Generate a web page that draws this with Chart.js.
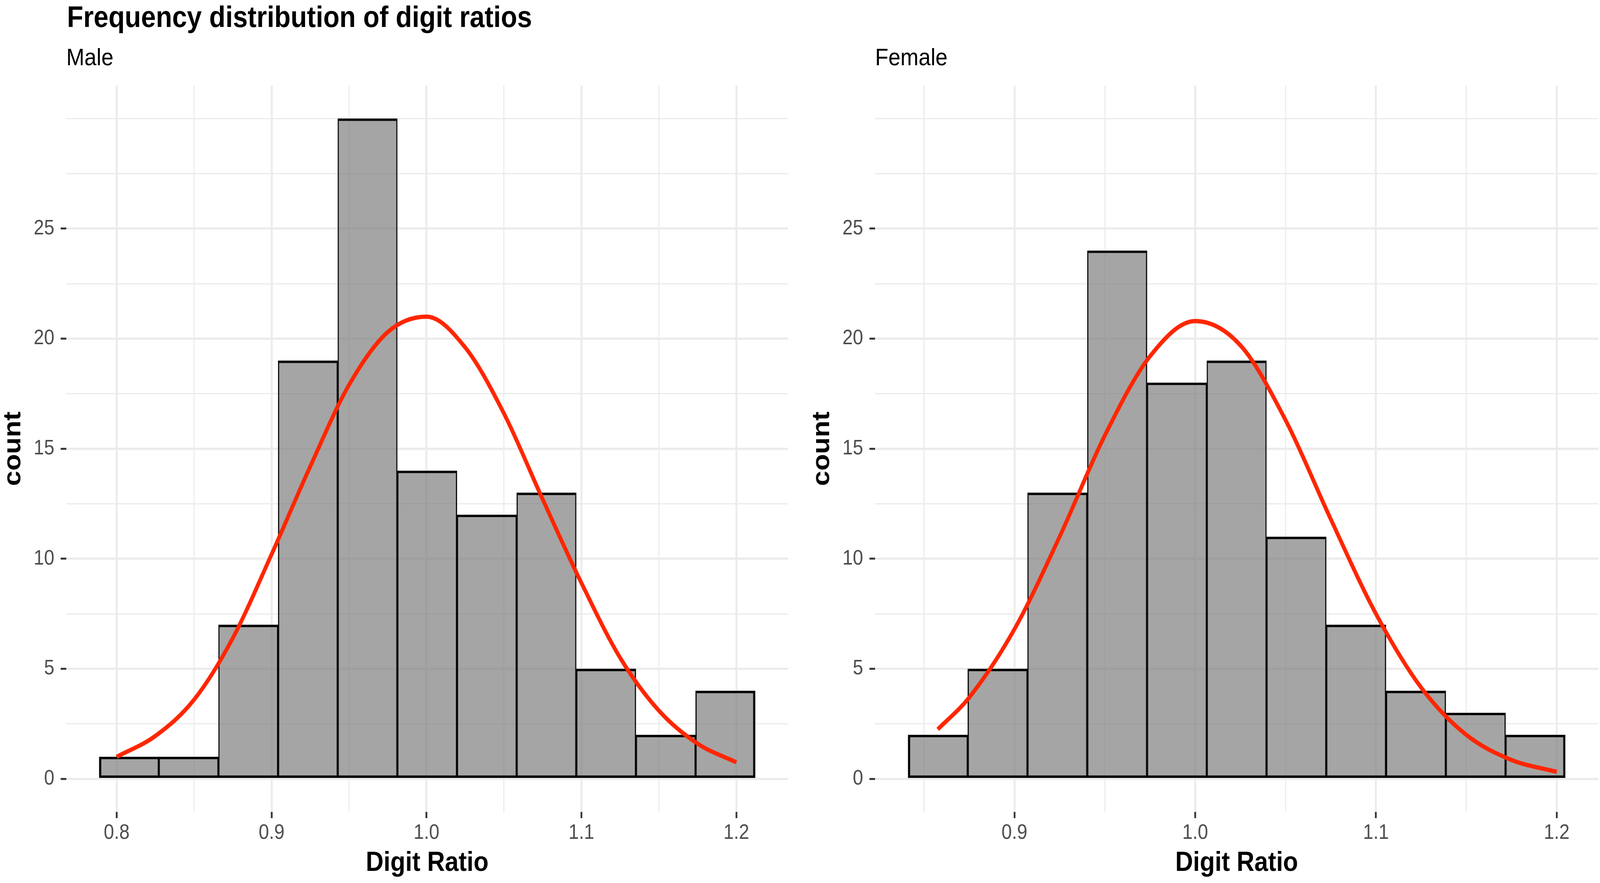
<!DOCTYPE html>
<html><head><meta charset="utf-8">
<script src="https://cdn.jsdelivr.net/npm/chart.js@4.4.1/dist/chart.umd.min.js"></script>
<style>
html,body{margin:0;padding:0;background:#fff;overflow:hidden;}
#page{width:4562px;height:2260px;position:absolute;left:0;top:0;transform-origin:0 0;background:#fff;font-family:'Liberation Sans',Arial,Helvetica,sans-serif;}
.t{position:absolute;white-space:nowrap;color:#000;line-height:1;}
#title{left:191px;top:5px;font-size:76px;font-weight:bold;}
.sub{font-size:62px;top:115px;}
canvas{position:absolute;top:0;}
</style></head><body>
<div id="page">
<div id="title" class="t">Frequency distribution of digit ratios</div>
<div class="t sub" style="left:189px">Male</div>
<div class="t sub" style="left:2495px">Female</div>
<canvas id="male" width="2300" height="2260" style="left:0;width:2300px;height:2260px"></canvas>
<canvas id="female" width="2256" height="2260" style="left:2306px;width:2256px;height:2260px"></canvas>
</div>
<script>
// ---- data ----
const maleBinEdges = [0.7887,0.8272,0.8657,0.9042,0.9427,0.9812,1.0197,1.0582,1.0967,1.1352,1.1737,1.2122];
const maleCounts = [1,1,7,19,30,14,12,13,5,2,4];
const maleCurveX = [0.800,0.825,0.850,0.875,0.900,0.925,0.950,0.975,1.000,1.025,1.050,1.075,1.100,1.125,1.150,1.175,1.200];
const maleCurveY = [1.0,1.95,3.6,6.4,10.2,14.2,17.9,20.3,21.0,19.6,16.6,12.7,8.9,5.5,3.1,1.6,0.75];

const femaleBinEdges = [0.8411,0.8742,0.9072,0.9403,0.9734,1.0064,1.0395,1.0725,1.1056,1.1387,1.1717,1.2048];
const femaleCounts = [2,5,13,24,18,19,11,7,4,3,2];
const femaleCurveX = [0.8576,0.875,0.900,0.925,0.950,0.975,1.000,1.025,1.050,1.075,1.100,1.125,1.150,1.175,1.200];
const femaleCurveY = [2.25,3.7,6.8,11.0,15.6,19.2,20.8,19.7,16.3,11.8,7.5,4.15,2.0,0.86,0.32];

const yGridValues = [0,2.5,5,7.5,10,12.5,15,17.5,20,22.5,25,27.5,30];
const yLabelValues = [0,5,10,15,20,25];
const maleXGrid = [0.8,0.85,0.9,0.95,1.0,1.05,1.1,1.15,1.2];
const maleXLabels = [0.8,0.9,1.0,1.1,1.2];
const femaleXGrid = [0.85,0.9,0.95,1.0,1.05,1.1,1.15,1.2];
const femaleXLabels = [0.9,1.0,1.1,1.2];
const maleXRange = [0.7675,1.2334];
const femaleXRange = [0.8229,1.2230];
const yRange = [-1.5,31.5];

// ---- fit the 4562x2260 layout into the actual window ----
(function(){
  const sx = window.innerWidth / 4562, sy = window.innerHeight / 2260;
  if (Math.abs(sx - 1) > 1e-3 || Math.abs(sy - 1) > 1e-3)
    document.getElementById('page').style.transform = 'scale(' + sx + ',' + sy + ')';
})();

// ---- styling ----
const FONT = "'Liberation Sans', Arial, Helvetica, sans-serif";
const GRID = '#EBEBEB';
const has = (arr, v) => arr.some(a => Math.abs(a - v) < 1e-6);

function makePanel(id, edges, counts, cx, cy, xRange, xGrid, xLabels, padRight) {
  const bars = counts.map((c, i) => ({x: (edges[i] + edges[i+1]) / 2, y: c}));
  const curve = cx.map((x, i) => ({x: x, y: cy[i]}));
  const last = counts.length - 1;
  new Chart(document.getElementById(id), {
    type: 'bar',
    data: {
      datasets: [
        {type: 'line', data: curve, borderColor: '#FF2600', borderWidth: 11, pointRadius: 0,
         fill: false, cubicInterpolationMode: 'monotone', order: 0},
        {type: 'bar', data: bars, backgroundColor: 'rgba(127,127,127,0.7)', borderColor: '#000',
         borderWidth: c => ({top: 6, bottom: 6, left: c.dataIndex === 0 ? 6 : 3, right: c.dataIndex === last ? 6 : 3}),
         borderSkipped: false, barPercentage: 1, categoryPercentage: 1, order: 1}
      ]
    },
    options: {
      responsive: false, animation: false, devicePixelRatio: 1,
      layout: {padding: {left: 0, right: padRight, top: 219, bottom: 0}},
      plugins: {legend: {display: false}, tooltip: {enabled: false}},
      scales: {
        x: {
          type: 'linear', min: xRange[0], max: xRange[1], offset: false,
          afterBuildTicks: s => { s.ticks = xGrid.map(v => ({value: v})); },
          afterFit: s => { s.height = 182; },
          border: {display: false},
          grid: {
            offset: false, drawTicks: true, tickLength: 16, color: GRID,
            lineWidth: c => (c.tick && has(xLabels, c.tick.value)) ? 5.5 : 3,
            tickWidth: 5,
            tickColor: c => (c.tick && has(xLabels, c.tick.value)) ? '#333333' : 'rgba(0,0,0,0)'
          },
          ticks: {
            autoSkip: false, maxRotation: 0, minRotation: 0, padding: 7, color: '#4D4D4D',
            font: {family: FONT, size: 53},
            callback: v => has(xLabels, v) ? v.toFixed(1) : ''
          },
          title: {display: true, text: 'Digit Ratio', color: '#000',
                  font: {family: FONT, size: 70, weight: 'bold', lineHeight: 1},
                  padding: {top: 0, bottom: 15}}
        },
        y: {
          type: 'linear', min: yRange[0], max: yRange[1], beginAtZero: false,
          afterBuildTicks: s => { s.ticks = yGridValues.map(v => ({value: v})); },
          afterFit: s => { s.width = 189; },
          border: {display: false},
          grid: {
            drawTicks: true, tickLength: 16, color: GRID,
            lineWidth: c => (c.tick && has(yLabelValues, c.tick.value)) ? 5.5 : 3,
            tickWidth: 5,
            tickColor: c => (c.tick && has(yLabelValues, c.tick.value)) ? '#333333' : 'rgba(0,0,0,0)'
          },
          ticks: {
            autoSkip: false, padding: 18, color: '#4D4D4D',
            font: {family: FONT, size: 53},
            callback: v => has(yLabelValues, v) ? String(v) : ''
          },
          title: {display: true, text: 'count', color: '#000',
                  font: {family: FONT, size: 70, weight: 'bold', lineHeight: 1},
                  padding: {top: 4, bottom: 0}}
        }
      }
    }
  });
}

makePanel('male', maleBinEdges, maleCounts, maleCurveX, maleCurveY, maleXRange, maleXGrid, maleXLabels, 53);
makePanel('female', femaleBinEdges, femaleCounts, femaleCurveX, femaleCurveY, femaleXRange, femaleXGrid, femaleXLabels, 5);
</script>
</body></html>
